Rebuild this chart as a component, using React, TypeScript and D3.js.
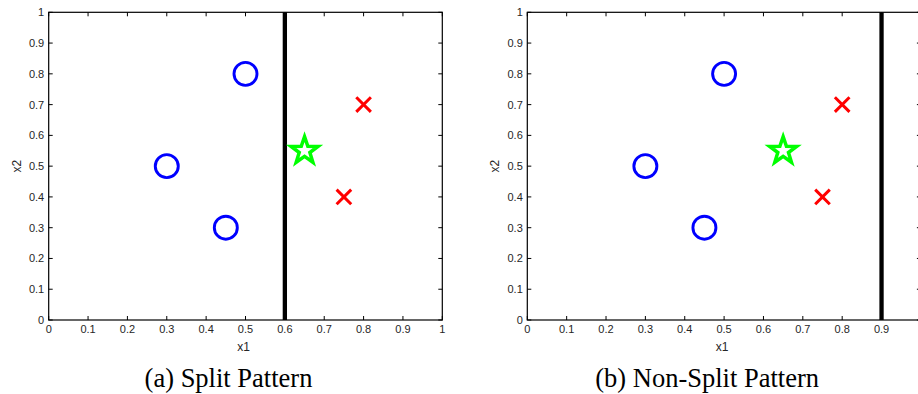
import React from "react";
import * as d3 from "d3";

const circlePts: [number, number][] = [
  [0.3, 0.5],
  [0.5, 0.8],
  [0.45, 0.3],
];
const crossPts: [number, number][] = [
  [0.8, 0.7],
  [0.75, 0.4],
];
const starPts: [number, number][] = [[0.65, 0.55]];
const splitValues = [0.6, 0.9];
const captions = ["(a) Split Pattern", "(b) Non-Split Pattern"];
const tickValues = [0, 0.1, 0.2, 0.3, 0.4, 0.5, 0.6, 0.7, 0.8, 0.9, 1];

const panelLeft = [48.7, 527.3];
const plotW = 393.6;
const plotTop = 12.3;
const plotBottom = 320;
const W = 918;

function starPath(R: number, r: number) {
  const pts: [number, number][] = [];
  for (let i = 0; i < 10; i++) {
    const a = -Math.PI / 2 + (i * Math.PI) / 5;
    const rad = i % 2 === 0 ? R : r;
    pts.push([rad * Math.cos(a), rad * Math.sin(a)]);
  }
  return d3.line()(pts.concat([pts[0]])) + "Z";
}

function tickFmt(v: number) {
  return v === 0 ? "0" : v === 1 ? "1" : d3.format(".1f")(v);
}

function Panel({ idx }: { idx: number }) {
  const x0 = panelLeft[idx];
  const x = d3.scaleLinear().domain([0, 1]).range([x0, x0 + plotW]);
  const y = d3.scaleLinear().domain([0, 1]).range([plotBottom, plotTop]);
  const tl = 4;
  const font = "Liberation Sans, Arial, sans-serif";
  const sp = starPath(14.2, 5.6);
  return (
    <g>
      <line
        x1={x(splitValues[idx])}
        x2={x(splitValues[idx])}
        y1={y(0)}
        y2={y(1)}
        stroke="#000"
        strokeWidth={4.3}
      />
      <rect
        x={x(0)}
        y={y(1)}
        width={x(1) - x(0)}
        height={y(0) - y(1)}
        fill="none"
        stroke="#000"
        strokeWidth={1.2}
      />
      {tickValues.map((v) => (
        <g key={"t" + v}>
          <line x1={x(v)} x2={x(v)} y1={y(0)} y2={y(0) - tl} stroke="#000" />
          <line x1={x(v)} x2={x(v)} y1={y(1)} y2={y(1) + tl} stroke="#000" />
          <line x1={x(0)} x2={x(0) + tl} y1={y(v)} y2={y(v)} stroke="#000" />
          <line x1={x(1)} x2={x(1) - tl} y1={y(v)} y2={y(v)} stroke="#000" />
          {x(v) + 4 < W && (
            <text
              x={x(v)}
              y={y(0) + 13}
              textAnchor="middle"
              fontFamily={font}
              fontSize={11}
              fill="#262626"
            >
              {tickFmt(v)}
            </text>
          )}
          <text
            x={x(0) - 4.5}
            y={y(v) + 4}
            textAnchor="end"
            fontFamily={font}
            fontSize={11}
            fill="#262626"
          >
            {tickFmt(v)}
          </text>
        </g>
      ))}
      <text
        x={x(0.5) - 2}
        y={351}
        textAnchor="middle"
        fontFamily={font}
        fontSize={12}
        fill="#262626"
      >
        x1
      </text>
      <text
        transform={`translate(${x0 - 28},${y(0.5)}) rotate(-90)`}
        textAnchor="middle"
        fontFamily={font}
        fontSize={12}
        fill="#262626"
      >
        x2
      </text>
      {circlePts.map((p, i) => (
        <circle
          key={"c" + i}
          cx={x(p[0])}
          cy={y(p[1])}
          r={11.5}
          fill="none"
          stroke="#0000ff"
          strokeWidth={2.9}
        />
      ))}
      {crossPts.map((p, i) => (
        <path
          key={"x" + i}
          transform={`translate(${x(p[0])},${y(p[1])})`}
          d="M-7.3,-7.3L7.3,7.3M-7.3,7.3L7.3,-7.3"
          stroke="#ff0000"
          strokeWidth={3}
          fill="none"
        />
      ))}
      {starPts.map((p, i) => (
        <path
          key={"s" + i}
          transform={`translate(${x(p[0])},${y(p[1])})`}
          d={sp}
          stroke="#00ff00"
          strokeWidth={3.5}
          fill="none"
          strokeLinejoin="miter"
        />
      ))}
      <text
        x={x0 + plotW / 2 - 17}
        y={386.5}
        textAnchor="middle"
        fontFamily="Liberation Serif, Times New Roman, serif"
        fontSize={26.5}
        fill="#000"
      >
        {captions[idx]}
      </text>
    </g>
  );
}

export default function App() {
  return (
    <svg
      width={918}
      height={394}
      style={{ position: "absolute", left: 0, top: 0, background: "#fff" }}
    >
      <rect width={918} height={394} fill="#fff" />
      <Panel idx={0} />
      <Panel idx={1} />
    </svg>
  );
}
